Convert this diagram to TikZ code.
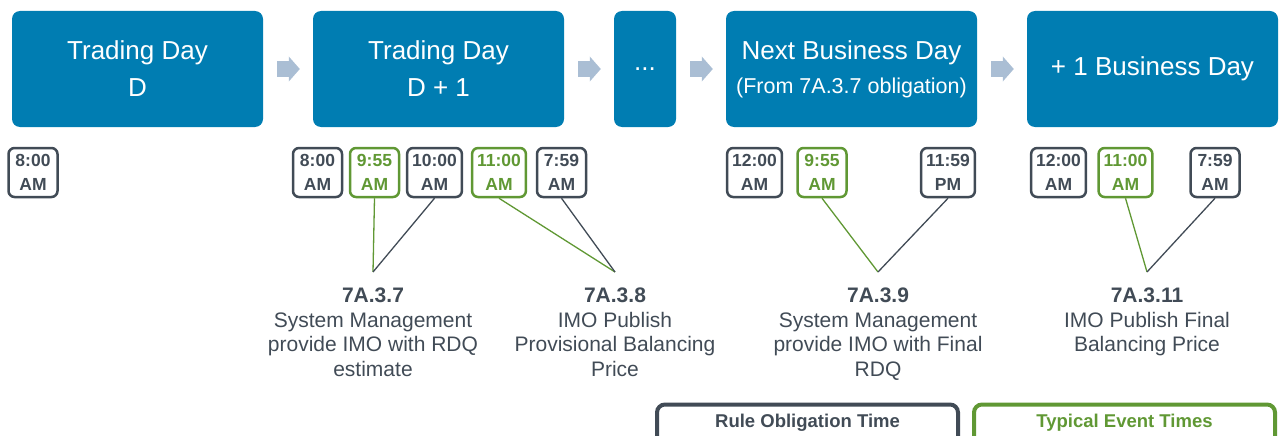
\documentclass[tikz,border=0pt]{standalone}
\usepackage{fontspec}
\setmainfont{Liberation Sans}
\usetikzlibrary{arrows.meta}

\definecolor{dayblue}{RGB}{0,125,178}
\definecolor{flowgrey}{RGB}{170,190,212}
\definecolor{slate}{RGB}{65,75,86}
\definecolor{leaf}{RGB}{96,152,52}

\tikzset{
  day/.style={fill=dayblue, text=white, rounded corners=8pt, minimum height=116pt, minimum width=251pt, align=center, font=\fontsize{26}{37}\selectfont},
  flow/.style={draw=flowgrey, line width=15pt, -{Triangle[length=11pt,width=25pt,line width=0pt]}, shorten <=14pt, shorten >=13pt},
  ruletime/.style={draw=slate, text=slate, line width=2.5pt, rounded corners=6pt, minimum width=49pt, minimum height=49pt, inner xsep=5pt, inner ysep=0pt, align=center, font=\bfseries\fontsize{17.5}{24}\selectfont},
  eventtime/.style={ruletime, draw=leaf, text=leaf},
  rulelink/.style={draw=slate, line width=1.3pt},
  eventlink/.style={draw=leaf, line width=1.3pt},
  rulenote/.style={anchor=north, align=center, text=slate, inner xsep=0pt, inner ysep=16pt, font=\fontsize{21}{24.5}\selectfont},
  legendbox/.style={anchor=base, line width=4pt, rounded corners=8pt, minimum width=301pt, text height=13pt, text depth=20pt, inner ysep=10pt, font=\bfseries\fontsize{18.5}{22}\selectfont}
}

\begin{document}
\begin{tikzpicture}[x=1pt,y=-1pt]
\useasboundingbox (0,0) rectangle (1282,436);
\clip (0,0) rectangle (1282,436);

\node[day] (d0) at (137.5,69) {Trading Day\\D};
\node[day] (d1) at (438.5,69) {Trading Day\\D + 1};
\node[day, minimum width=62pt] (dn) at (645,69) {...};
\node[day] (nbd) at (851.5,69) {Next Business Day\\[-3pt]{\fontsize{21.5}{24}\selectfont(From 7A.3.7 obligation)}};
\node[day] (pbd) at (1152.5,69) {+ 1 Business Day};

\draw[flow] (d0) -- (d1);
\draw[flow] (d1) -- (dn);
\draw[flow] (dn) -- (nbd);
\draw[flow] (nbd) -- (pbd);

\node[ruletime] (d800) at (33,172.5) {8:00\\AM};

\node[ruletime] (dp800) at (317.5,172.5) {8:00\\AM};
\node[eventtime] (dp955) at (374.5,172.5) {9:55\\AM};
\node[ruletime] (dp1000) at (434.5,172.5) {10:00\\AM};
\node[eventtime] (dp1100) at (499,172.5) {11:00\\AM};
\node[ruletime] (dp759) at (561.5,172.5) {7:59\\AM};

\node[ruletime] (nb1200) at (754.5,172.5) {12:00\\AM};
\node[eventtime] (nb955) at (822,172.5) {9:55\\AM};
\node[ruletime] (nb1159) at (948,172.5) {11:59\\PM};

\node[ruletime] (pb1200) at (1058.5,172.5) {12:00\\AM};
\node[eventtime] (pb1100) at (1125.5,172.5) {11:00\\AM};
\node[ruletime] (pb759) at (1215,172.5) {7:59\\AM};

\node[rulenote] (r737) at (373,272) {\textbf{7A.3.7}\\System Management\\provide IMO with RDQ\\estimate};
\node[rulenote] (r738) at (615,272) {\textbf{7A.3.8}\\IMO Publish\\Provisional Balancing\\Price};
\node[rulenote] (r739) at (878,272) {\textbf{7A.3.9}\\System Management\\provide IMO with Final\\RDQ};
\node[rulenote] (r7311) at (1147,272) {\textbf{7A.3.11}\\IMO Publish Final\\Balancing Price};

\draw[eventlink] (dp955.south) -- (r737.north);
\draw[rulelink] (dp1000.south) -- (r737.north);
\draw[eventlink] (dp1100.south) -- (r738.north);
\draw[rulelink] (dp759.south) -- (r738.north);
\draw[eventlink] (nb955.south) -- (r739.north);
\draw[rulelink] (nb1159.south) -- (r739.north);
\draw[eventlink] (pb1100.south) -- (r7311.north);
\draw[rulelink] (pb759.south) -- (r7311.north);

\node[legendbox, draw=slate, text=slate] (rulekey) at (807.5,427.5) {Rule Obligation Time};
\node[legendbox, draw=leaf, text=leaf] (eventkey) at (1124.5,427.5) {Typical Event Times};
\end{tikzpicture}
\end{document}
